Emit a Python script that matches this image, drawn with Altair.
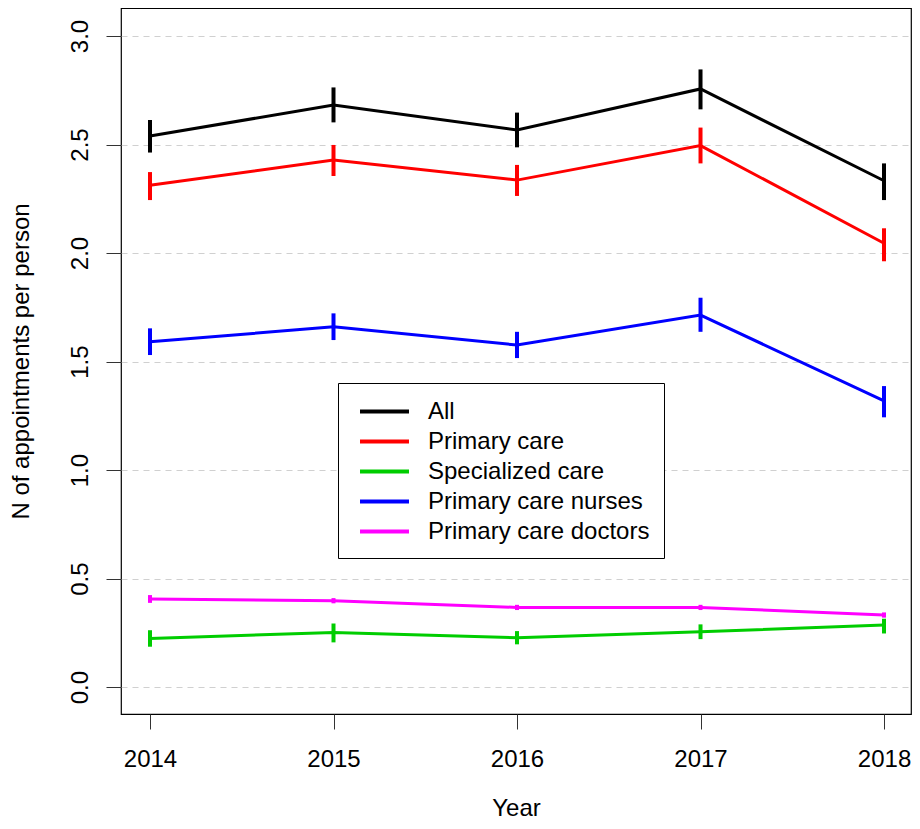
import altair as alt
import pandas as pd

years = [2014, 2015, 2016, 2017, 2018]
series = ["All", "Primary care", "Specialized care", "Primary care nurses", "Primary care doctors"]
colors = ["#000000", "#FF0000", "#00CD00", "#0000FF", "#FF00FF"]

all_mean = [2.539, 2.682, 2.567, 2.756, 2.333]
all_lo = [2.463, 2.602, 2.487, 2.662, 2.244]
all_hi = [2.613, 2.763, 2.647, 2.846, 2.413]

pc_mean = [2.312, 2.429, 2.336, 2.495, 2.045]
pc_lo = [2.244, 2.355, 2.263, 2.413, 1.962]
pc_hi = [2.373, 2.498, 2.406, 2.578, 2.114]

spec_mean = [0.224, 0.252, 0.227, 0.255, 0.286]
spec_lo = [0.186, 0.206, 0.197, 0.221, 0.247]
spec_hi = [0.262, 0.293, 0.258, 0.289, 0.315]

nurse_mean = [1.591, 1.660, 1.576, 1.714, 1.319]
nurse_lo = [1.530, 1.599, 1.516, 1.637, 1.243]
nurse_hi = [1.653, 1.722, 1.637, 1.794, 1.387]

doc_mean = [0.406, 0.398, 0.367, 0.367, 0.332]
doc_lo = [0.388, 0.386, 0.355, 0.355, 0.320]
doc_hi = [0.424, 0.410, 0.379, 0.379, 0.344]

y_ticks = [0.0, 0.5, 1.0, 1.5, 2.0, 2.5, 3.0]

means = [all_mean, pc_mean, spec_mean, nurse_mean, doc_mean]
los = [all_lo, pc_lo, spec_lo, nurse_lo, doc_lo]
his = [all_hi, pc_hi, spec_hi, nurse_hi, doc_hi]

rows = []
for s, m, lo, hi in zip(series, means, los, his):
    for i, yr in enumerate(years):
        rows.append({"year": yr, "series": s, "value": m[i], "lo": lo[i], "hi": hi[i]})
df = pd.DataFrame(rows)

FONT = "Liberation Sans"

xscale = alt.Scale(domain=[2013.842, 2018.147], nice=False, zero=False)
yscale = alt.Scale(domain=[-0.124, 3.129], nice=False, zero=False)

color = alt.Color(
    "series:N",
    scale=alt.Scale(domain=series, range=colors),
    legend=alt.Legend(
        orient="none",
        legendX=217,
        legendY=375,
        direction="vertical",
        title=None,
        strokeColor="black",
        fillColor="white",
        padding=14,
        symbolType="M-2,0H2",
        symbolSize=600,
        symbolStrokeWidth=4,
        symbolOffset=18,
        labelFontSize=24,
        labelFont=FONT,
        labelColor="black",
        labelOffset=29,
        labelLimit=400,
        rowPadding=3,
    ),
)

xaxis = alt.Axis(
    values=years,
    format="d",
    title="Year",
    grid=False,
    domain=False,
    tickSize=15,
    tickColor="#333333",
    labelFontSize=24,
    labelFont=FONT,
    labelColor="black",
    labelPadding=18,
    labelFlush=False,
    titleFontSize=24,
    titleFont=FONT,
    titleFontWeight="normal",
    titleColor="black",
    titleBaseline="alphabetic",
    titleY=101,
)

yaxis = alt.Axis(
    values=y_ticks,
    format=".1f",
    title="N of appointments per person",
    grid=True,
    gridColor="#d0d0d0",
    gridDash=[6, 5],
    gridWidth=1.2,
    domain=False,
    tickSize=15,
    tickColor="#333333",
    labelFontSize=24,
    labelFont=FONT,
    labelColor="black",
    labelAngle=270,
    labelAlign="center",
    labelBaseline="bottom",
    labelPadding=14,
    titleFontSize=24,
    titleFont=FONT,
    titleFontWeight="normal",
    titleColor="black",
    titleAngle=270,
    titleAlign="center",
    titleBaseline="alphabetic",
    titleX=-93,
    titleY=353,
)

base = alt.Chart(df)

lines = base.mark_line(strokeWidth=3).encode(
    x=alt.X("year:Q", scale=xscale, axis=xaxis),
    y=alt.Y("value:Q", scale=yscale, axis=yaxis),
    color=color,
    detail="series:N",
)

bars = base.mark_rule(strokeWidth=4).encode(
    x=alt.X("year:Q", scale=xscale),
    y=alt.Y("lo:Q", scale=yscale),
    y2="hi:Q",
    color=alt.Color("series:N", scale=alt.Scale(domain=series, range=colors), legend=None),
)

chart = (
    alt.layer(lines, bars)
    .properties(
        width=790,
        height=706,
        autosize=alt.AutoSizeParams(type="none"),
        padding={"left": 113, "top": 0, "right": 1, "bottom": 107},
        background="white",
    )
    .configure_view(stroke="black", strokeWidth=1.2)
)

chart.save("out.html", embed_options={"renderer": "svg", "actions": False})
